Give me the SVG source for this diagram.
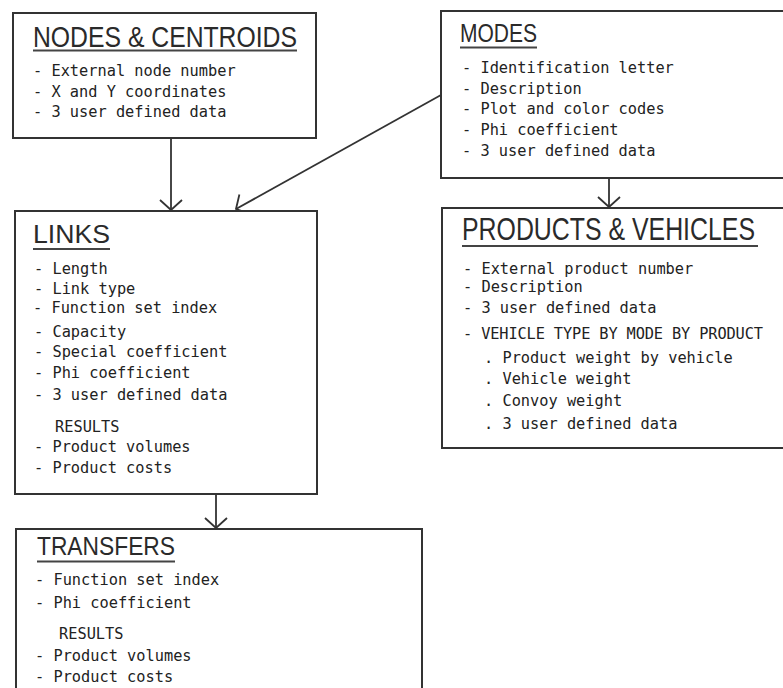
<svg xmlns="http://www.w3.org/2000/svg" width="783" height="688" viewBox="0 0 783 688">
<style>
.box{fill:#fff;stroke:#333;stroke-width:2}
.open{fill:none;stroke:#333;stroke-width:2}
.ttl{font-family:"Liberation Sans","DejaVu Sans",sans-serif;fill:#2a2a2a;font-weight:normal}
.ul{stroke:#444;stroke-width:2}
.it{font-family:"DejaVu Sans Mono","Liberation Mono",monospace;font-size:15.3px;fill:#222}
.con{fill:none;stroke:#333;stroke-width:1.8}
</style>
<defs>
<marker id="v" markerUnits="userSpaceOnUse" markerWidth="30" markerHeight="30" viewBox="-15 -15 30 30" refX="0" refY="0" orient="auto">
<path d="M-10,-11 L0,0 L-10,11" fill="none" stroke="#333" stroke-width="1.8"/>
</marker>
</defs>
<rect width="783" height="688" fill="#fff"/>
<g id="connectors">
<line class="con" x1="171" y1="138" x2="171" y2="210" marker-end="url(#v)"/>
<line class="con" x1="441" y1="95" x2="236" y2="209" marker-end="url(#v)"/>
<line class="con" x1="609" y1="178" x2="609" y2="207" marker-end="url(#v)"/>
<line class="con" x1="216" y1="494" x2="216" y2="528" marker-end="url(#v)"/>
</g>
<g id="nodes-centroids">
<rect class="box" x="13" y="13" width="303" height="125"/>
<text class="ttl" x="33" y="47" font-size="30" textLength="264" lengthAdjust="spacingAndGlyphs">NODES &amp; CENTROIDS</text>
<line class="ul" x1="33" y1="50.5" x2="297" y2="50.5"/>
<text class="it" x="33" y="76">- External node number</text>
<text class="it" x="33" y="97">- X and Y coordinates</text>
<text class="it" x="33" y="117">- 3 user defined data</text>
</g>
<g id="modes">
<rect x="441" y="11" width="342" height="167" fill="#fff"/>
<path class="open" d="M783,11 H441 V178 H783"/>
<text class="ttl" x="460" y="42" font-size="26" textLength="77" lengthAdjust="spacingAndGlyphs">MODES</text>
<line class="ul" x1="460" y1="47.5" x2="537" y2="47.5"/>
<text class="it" x="462" y="73">- Identification letter</text>
<text class="it" x="462" y="94">- Description</text>
<text class="it" x="462" y="114">- Plot and color codes</text>
<text class="it" x="462" y="135">- Phi coefficient</text>
<text class="it" x="462" y="156">- 3 user defined data</text>
</g>
<g id="links">
<rect class="box" x="15" y="211" width="302" height="283"/>
<text class="ttl" x="33" y="243" font-size="26" textLength="77" lengthAdjust="spacingAndGlyphs">LINKS</text>
<line class="ul" x1="33" y1="249" x2="110" y2="249"/>
<text class="it" x="34" y="274">- Length</text>
<text class="it" x="34" y="294">- Link type</text>
<text class="it" x="33" y="313">- Function set index</text>
<text class="it" x="34" y="337">- Capacity</text>
<text class="it" x="34" y="357">- Special coefficient</text>
<text class="it" x="34" y="378">- Phi coefficient</text>
<text class="it" x="34" y="400">- 3 user defined data</text>
<text class="it" x="55" y="432">RESULTS</text>
<text class="it" x="34" y="452">- Product volumes</text>
<text class="it" x="34" y="473">- Product costs</text>
</g>
<g id="products-vehicles">
<rect x="442" y="208" width="341" height="240" fill="#fff"/>
<path class="open" d="M783,208 H442 V448 H783"/>
<text class="ttl" transform="translate(462,240) scale(1,1.17)" x="0" y="0" font-size="27" textLength="293" lengthAdjust="spacingAndGlyphs">PRODUCTS &amp; VEHICLES</text>
<line class="ul" x1="462" y1="246" x2="758" y2="246"/>
<text class="it" x="463" y="274">- External product number</text>
<text class="it" x="463" y="292">- Description</text>
<text class="it" x="463" y="313">- 3 user defined data</text>
<text class="it" x="463" y="339" textLength="300">- VEHICLE TYPE BY MODE BY PRODUCT</text>
<text class="it" x="484" y="363">. Product weight by vehicle</text>
<text class="it" x="484" y="384">. Vehicle weight</text>
<text class="it" x="484" y="406">. Convoy weight</text>
<text class="it" x="484" y="429">. 3 user defined data</text>
</g>
<g id="transfers">
<rect x="16" y="529" width="406" height="159" fill="#fff"/>
<path class="open" d="M16,688 V529 H422 V688"/>
<text class="ttl" x="37" y="555" font-size="25" textLength="138" lengthAdjust="spacingAndGlyphs">TRANSFERS</text>
<line class="ul" x1="37" y1="561.5" x2="175" y2="561.5"/>
<text class="it" x="35" y="585">- Function set index</text>
<text class="it" x="35" y="608">- Phi coefficient</text>
<text class="it" x="59" y="639">RESULTS</text>
<text class="it" x="35" y="661">- Product volumes</text>
<text class="it" x="35" y="682">- Product costs</text>
</g>
</svg>
